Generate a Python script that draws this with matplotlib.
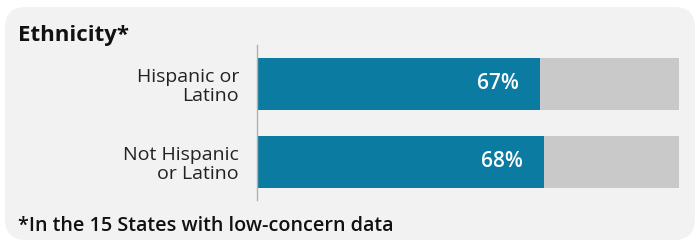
import matplotlib.pyplot as plt
from matplotlib.patches import FancyBboxPatch

# data
categories = ["Hispanic or\nLatino", "Not Hispanic\nor Latino"]
values = [67, 68]
title = "Ethnicity*"
note = "*In the 15 States with low-concern data"

blue = "#0b7ba2"
grey = "#c9c9c9"
panel = "#f2f2f2"
plt.rcParams['font.family'] = ['Open Sans', 'DejaVu Sans']

W, H = 698, 242
fig = plt.figure(figsize=(W / 100, H / 100), dpi=100)
fig.patch.set_facecolor("white")

# rounded background panel
bg = FancyBboxPatch((5 / W, 2 / H), 690 / W, 233 / H,
                    boxstyle="round,pad=0,rounding_size=0.03",
                    transform=fig.transFigure, facecolor=panel,
                    edgecolor="none", mutation_aspect=W / H, zorder=-10)
fig.patches.append(bg)

ax = fig.add_axes([257 / W, 1 - 200 / H, 422 / W, 155 / H])
ax.set_facecolor("none")
ypos = list(range(len(categories)))
ax.barh(ypos, [100] * len(values), height=0.667, color=grey)
ax.barh(ypos, values, height=0.667, color=blue)
for y, v in zip(ypos, values):
    ax.text(v - 5, y, f"{v}%", color="white", fontsize=15,
            fontweight="semibold", ha="right", va="center")
ax.set_xlim(0, 100)
ax.set_ylim(1.49, -0.5)
ax.set_yticks(ypos)
ax.set_yticklabels(categories, fontsize=14, color="#222222",
                   linespacing=1.05, ha="right")
ax.tick_params(axis="y", length=0, pad=13)
ax.set_xticks([])
for s in ["top", "right", "bottom"]:
    ax.spines[s].set_visible(False)
ax.spines["left"].set_color("#b0b0b0")
ax.spines["left"].set_linewidth(1)

fig.text(18 / W, 1 - 35 / H, title, fontsize=16, fontweight="bold",
         color="#111111", va="center", ha="left")
fig.text(18 / W, 1 - 226 / H, note, fontsize=14.2, fontweight="semibold",
         color="#111111", va="center", ha="left")

fig.savefig("out.png", dpi=100)
